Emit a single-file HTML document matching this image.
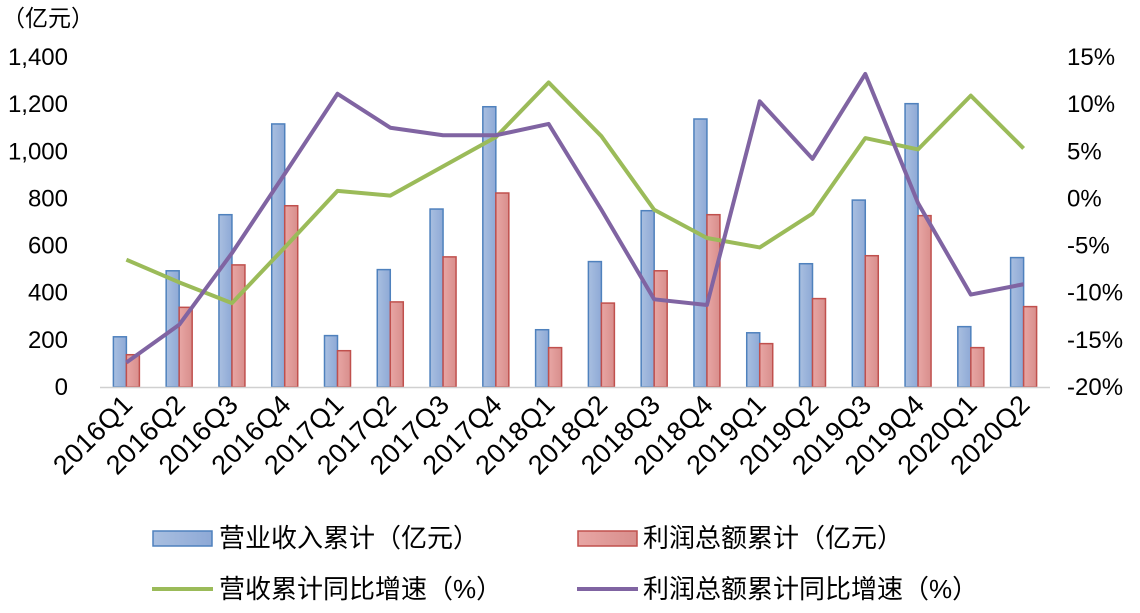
<!DOCTYPE html>
<html><head><meta charset="utf-8"><style>
html,body{margin:0;padding:0;background:#fff;}
svg text{font-family:"Liberation Sans","Noto Sans CJK SC",sans-serif;fill:#000;}
</style></head><body>
<svg id="chart" width="1140" height="608" viewBox="0 0 1140 608" xmlns="http://www.w3.org/2000/svg">
<defs>
<linearGradient id="gb" x1="0" y1="0" x2="1" y2="0"><stop offset="0" stop-color="#a9bfe0"/><stop offset="1" stop-color="#8ea9d6"/></linearGradient>
<linearGradient id="gr" x1="0" y1="0" x2="1" y2="0"><stop offset="0" stop-color="#e8a6a4"/><stop offset="1" stop-color="#d88e8c"/></linearGradient>
</defs>
<g id="plot"></g>
<text x="2" y="26" font-size="23">（亿元）</text>
<g>
<g><rect x="153" y="531" width="59" height="15" fill="url(#gb)" stroke="#4f81bd" stroke-width="1.5"/><text x="219" y="547" font-size="26">营业收入累计（亿元）</text></g>
<g><rect x="578" y="531" width="59" height="15" fill="url(#gr)" stroke="#c0504d" stroke-width="1.5"/><text x="643" y="547" font-size="26">利润总额累计（亿元）</text></g>
<g><line x1="152" y1="589" x2="213" y2="589" stroke="#9bbb59" stroke-width="4"/><text x="219" y="598" font-size="26">营收累计同比增速（%）</text></g>
<g><line x1="577" y1="589" x2="638" y2="589" stroke="#8064a2" stroke-width="4"/><text x="643" y="598" font-size="26">利润总额累计同比增速（%）</text></g>
</g>
</svg>
<script>
const categories=["2016Q1","2016Q2","2016Q3","2016Q4","2017Q1","2017Q2","2017Q3","2017Q4","2018Q1","2018Q2","2018Q3","2018Q4","2019Q1","2019Q2","2019Q3","2019Q4","2020Q1","2020Q2"];
const revenue=[213,493,731,1116,218,498,755,1189,243,532,748,1137,230,523,793,1202,256,549];
const profit=[137,338,518,769,154,361,552,823,167,356,493,731,184,375,557,727,167,341];
const revenueGrowth=[-6.5,-8.9,-11.1,-5.2,0.8,0.3,3.4,6.5,12.3,6.6,-1.2,-4.2,-5.2,-1.6,6.4,5.2,10.9,5.3];
const profitGrowth=[-17.4,-13.4,-5.8,2.6,11.1,7.5,6.7,6.7,7.9,-1.2,-10.7,-11.3,10.3,4.2,13.2,-0.5,-10.2,-9.1];
const leftTicks=[0,200,400,600,800,1000,1200,1400];
const leftTickLabels=["0","200","400","600","800","1,000","1,200","1,400"];
const rightTicks=[-20,-15,-10,-5,0,5,10,15];
const rightTickLabels=["-20%","-15%","-10%","-5%","0%","5%","10%","15%"];

const NS="http://www.w3.org/2000/svg";
const g=document.getElementById('plot');
const X0=100,X1=1050,Y0=387,Y1=57;
const step=(X1-X0)/categories.length;
const xc=i=>X0+step*(i+0.5);
const yL=v=>Y0-(v-0)/1400*(Y0-Y1);
const yR=v=>Y0-(v+20)/35*(Y0-Y1);
function mk(t,a){const e=document.createElementNS(NS,t);for(const k in a)e.setAttribute(k,a[k]);g.appendChild(e);return e;}

leftTicks.forEach((v,i)=>{
  const t=mk('text',{x:68,y:yL(v)+8,'font-size':24,'text-anchor':'end'});
  t.textContent=leftTickLabels[i];
  
  
});
rightTicks.forEach((v,i)=>{
  const t=mk('text',{x:1067,y:yR(v)+8,'font-size':24});
  t.textContent=rightTickLabels[i];
  
  
});
const bw=13;
categories.forEach((c,i)=>{
  const x=xc(i);
  const b=mk('rect',{x:x-bw,y:yL(revenue[i]),width:bw,height:Y0-yL(revenue[i]),fill:'url(#gb)',stroke:'#4f81bd','stroke-width':1.5});
  
  
  const r=mk('rect',{x:x,y:yL(profit[i]),width:bw,height:Y0-yL(profit[i]),fill:'url(#gr)',stroke:'#c0504d','stroke-width':1.5});
  
  
  const t=mk('text',{x:x+8,y:406,'font-size':27,'letter-spacing':0.5,'text-anchor':'end',transform:`rotate(-45 ${x+8} 406)`});
  t.textContent=c;
  
  
});
const ax=mk('line',{x1:X0,y1:Y0+0.5,x2:X1,y2:Y0+0.5,stroke:'#d0d0d0','stroke-width':1.5});


const l1=mk('polyline',{points:revenueGrowth.map((v,i)=>xc(i)+','+yR(v)).join(' '),fill:'none',stroke:'#9bbb59','stroke-width':4,'stroke-linejoin':'round'});


const l2=mk('polyline',{points:profitGrowth.map((v,i)=>xc(i)+','+yR(v)).join(' '),fill:'none',stroke:'#8064a2','stroke-width':4,'stroke-linejoin':'round'});


</script>
</body></html>
